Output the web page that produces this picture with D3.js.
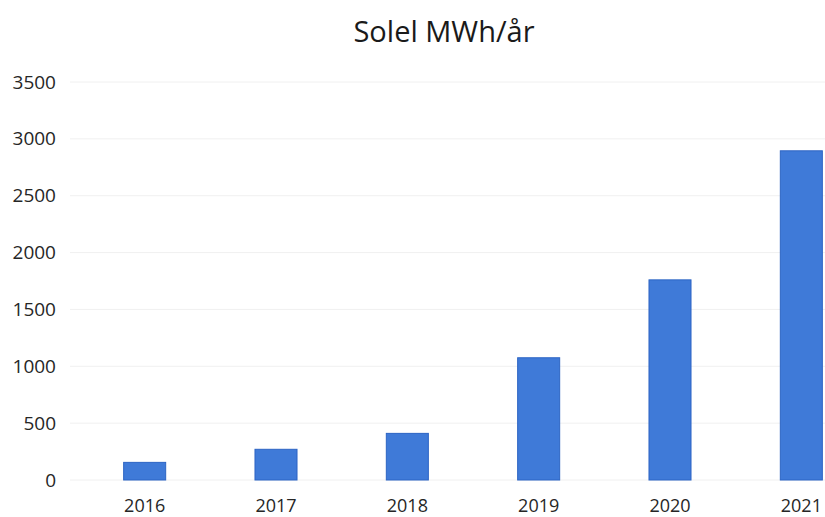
<!DOCTYPE html>
<html>
  <head>
    <meta charset="utf-8">
    <title>Solel MWh/år</title>
    <style>
      body { margin: 0; background: #fff; }
      svg { display: block; overflow: hidden; }
    </style>
  </head>
  <body>
    <div id="chart"></div>
    <script src="https://cdn.jsdelivr.net/npm/d3@7"></script>
    <script>
        var years = ['2016', '2017', '2018', '2019', '2020', '2021'];
        var mwh = [155, 270, 410, 1075, 1760, 2895];
        var yTicks = [0, 500, 1000, 1500, 2000, 2500, 3000, 3500];

        var width = 825;
        var height = 517;
        var font = '"Open Sans", sans-serif';

        var svg = d3.select('#chart')
          .append('svg')
          .attr('width', width)
          .attr('height', height)
          .style('font-family', font);

        var x = d3.scaleBand()
          .domain(years)
          .range([79, 867])
          .paddingInner(0.68)
          .paddingOuter(0.34);

        var y = d3.scaleLinear()
          .domain([0, 3500])
          .range([480, 82]);

        // faint gridlines
        svg.append('g')
          .selectAll('line')
          .data(yTicks)
          .enter()
          .append('line')
          .attr('x1', 70)
          .attr('x2', width)
          .attr('y1', function(d) { return y(d); })
          .attr('y2', function(d) { return y(d); })
          .attr('stroke', '#f0f0f0')
          .attr('stroke-width', 1);

        var yAxis = svg.append('g')
          .attr('transform', 'translate(56,0)')
          .call(d3.axisLeft(y).tickValues(yTicks).tickFormat(d3.format('d')).tickSize(0).tickPadding(0));
        yAxis.select('.domain').remove();
        yAxis.selectAll('text')
          .attr('fill', '#262626')
          .style('font-family', font)
          .style('font-size', '19px');

        svg.selectAll('rect.bar')
          .data(years)
          .enter()
          .append('rect')
          .attr('class', 'bar')
          .attr('x', function(d) { return x(d); })
          .attr('width', x.bandwidth())
          .attr('y', function(d, i) { return y(mwh[i]); })
          .attr('height', function(d, i) { return y(0) - y(mwh[i]); })
          .attr('fill', '#3f7ad8')
          .attr('stroke', '#2c64c4')
          .attr('stroke-width', 1);

        var xAxis = svg.append('g')
          .attr('transform', 'translate(0,480)')
          .call(d3.axisBottom(x).tickSize(0).tickPadding(19));
        xAxis.select('.domain').remove();
        xAxis.selectAll('text')
          .attr('fill', '#262626')
          .style('font-family', font)
          .style('font-size', '18px');

        svg.append('text')
          .attr('x', 444)
          .attr('y', 42)
          .attr('text-anchor', 'middle')
          .attr('fill', '#1a1a1a')
          .style('font-size', '29px')
          .text('Solel MWh/år');
    </script>
  </body>
</html>
